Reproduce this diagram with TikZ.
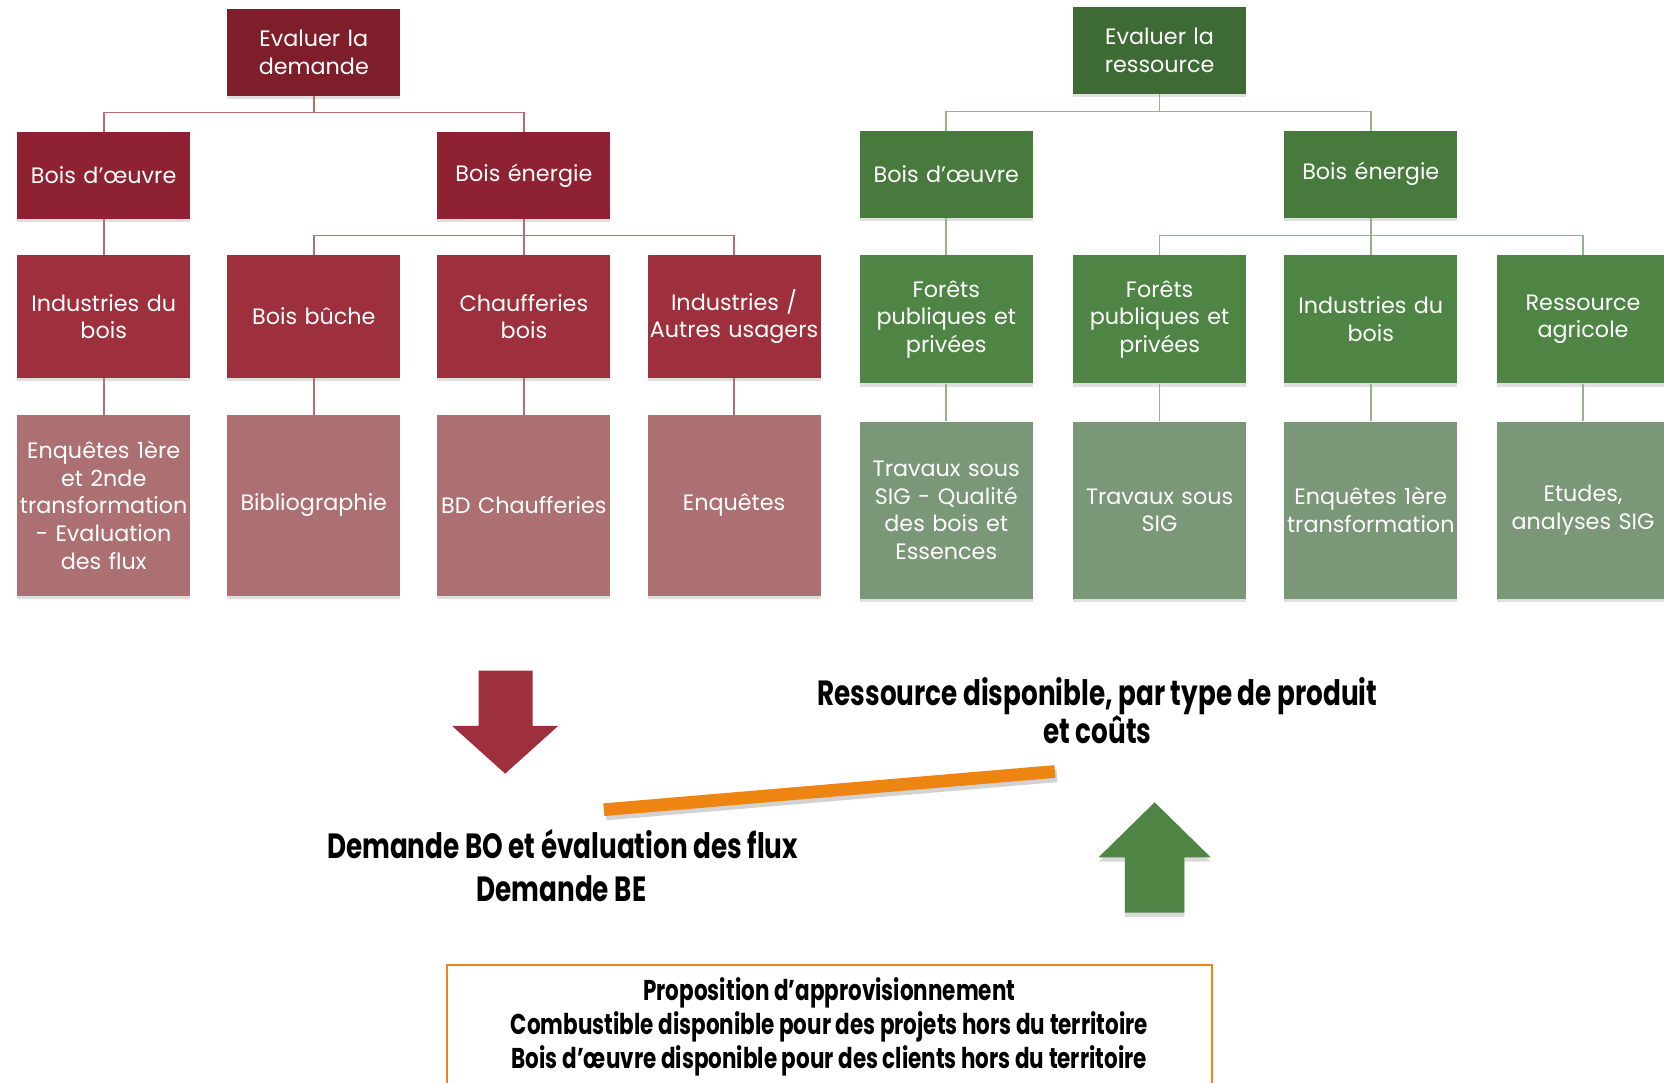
\documentclass[tikz,border=0pt]{standalone}
\usepackage{fontspec}
\setmainfont{Poppins}
\newfontfamily\etroite[FakeStretch=0.75]{Poppins}
\usetikzlibrary{shadows,calc}
\definecolor{rouge1}{HTML}{7E1E2A}
\definecolor{rouge2}{HTML}{8E2232}
\definecolor{rouge3}{HTML}{9E2F3C}
\definecolor{rouge4}{HTML}{AC7073}
\definecolor{rougetrait}{HTML}{B86B72}
\definecolor{vert1}{HTML}{3E6B35}
\definecolor{vert2}{HTML}{477A3C}
\definecolor{vert3}{HTML}{4F8544}
\definecolor{vert4}{HTML}{7A9777}
\definecolor{verttrait}{HTML}{93B48D}
\definecolor{orange}{HTML}{EE8412}
\tikzstyle{boite} = [rectangle, anchor=north west, text=white, align=center, inner xsep=1pt, text width=161pt, minimum width=163pt, font=\fontsize{21}{26}\selectfont, drop shadow={shadow xshift=0pt, shadow yshift=-3pt, opacity=.25}]
\tikzstyle{traitrouge} = [draw=rougetrait, line width=1.6pt]
\tikzstyle{traitvert} = [draw=verttrait, line width=1.6pt]
\tikzstyle{gras} = [align=center, font=\etroite\bfseries\fontsize{33}{30}\selectfont]

\begin{document}
\begin{tikzpicture}[x=1pt, y=-1pt]
		\useasboundingbox (0,0) rectangle (1568,1020);
		% demande
		\node[boite, fill=rouge1, minimum height=82pt](rdem) at (214,8) {Evaluer la\\demande};
		\node[boite, fill=rouge2, minimum height=82pt](rbo) at (16,124) {Bois d’œuvre};
		\node[boite, fill=rouge2, minimum height=82pt](rbe) at (412,124) {Bois énergie};
		\node[boite, fill=rouge3, minimum height=116pt](rind) at (16,240) {Industries du\\bois};
		\node[boite, fill=rouge3, minimum height=116pt](rbuche) at (214,240) {Bois bûche};
		\node[boite, fill=rouge3, minimum height=116pt](rchauf) at (412,240) {Chaufferies\\bois};
		\node[boite, fill=rouge3, minimum height=116pt](rautres) at (610,240) {Industries /\\Autres usagers};
		\node[boite, fill=rouge4, minimum height=170pt](renq) at (16,391) {Enquêtes 1ère\\et 2nde\\transformation\\- Evaluation\\des flux};
		\node[boite, fill=rouge4, minimum height=170pt](rbiblio) at (214,391) {Bibliographie};
		\node[boite, fill=rouge4, minimum height=170pt](rbd) at (412,391) {BD Chaufferies};
		\node[boite, fill=rouge4, minimum height=170pt](renq2) at (610,391) {Enquêtes};
		\draw[traitrouge] (rdem.south) -- ++(0,16);
		\draw[traitrouge] (rbo.north) -- ++(0,-18) -| (rbe.north);
		\draw[traitrouge] (rbo.south) -- (rind.north);
		\draw[traitrouge] (rbe.south) -- (rchauf.north);
		\draw[traitrouge] (rbuche.north) -- ++(0,-18) -| (rautres.north);
		\draw[traitrouge] (rind.south) -- (renq.north);
		\draw[traitrouge] (rbuche.south) -- (rbiblio.north);
		\draw[traitrouge] (rchauf.south) -- (rbd.north);
		\draw[traitrouge] (rautres.south) -- (renq2.north);
		% ressource
		\node[boite, fill=vert1, minimum height=82pt](vres) at (1011,6) {Evaluer la\\ressource};
		\node[boite, fill=vert2, minimum height=82pt](vbo) at (810,123) {Bois d’œuvre};
		\node[boite, fill=vert2, minimum height=82pt](vbe) at (1210,123) {Bois énergie};
		\node[boite, fill=vert3, minimum height=121pt](vfor) at (810,240) {Forêts\\publiques et\\privées};
		\node[boite, fill=vert3, minimum height=121pt](vfor2) at (1011,240) {Forêts\\publiques et\\privées};
		\node[boite, fill=vert3, minimum height=121pt](vind) at (1210,240) {Industries du\\bois};
		\node[boite, fill=vert3, minimum height=121pt](vagri) at (1410,240) {Ressource\\agricole};
		\node[boite, fill=vert4, minimum height=167pt](vsig) at (810,397) {Travaux sous\\SIG - Qualité\\des bois et\\Essences};
		\node[boite, fill=vert4, minimum height=167pt](vsig2) at (1011,397) {Travaux sous\\SIG};
		\node[boite, fill=vert4, minimum height=167pt](venq) at (1210,397) {Enquêtes 1ère\\transformation};
		\node[boite, fill=vert4, minimum height=167pt](vetu) at (1410,397) {Etudes,\\analyses SIG};
		\draw[traitvert] (vres.south) -- ++(0,17);
		\draw[traitvert] (vbo.north) -- ++(0,-18) -| (vbe.north);
		\draw[traitvert] (vbo.south) -- (vfor.north);
		\draw[traitvert] (vbe.south) -- (vind.north);
		\draw[traitvert] (vfor2.north) -- ++(0,-18) -| (vagri.north);
		\draw[traitvert] (vfor.south) -- (vsig.north);
		\draw[traitvert] (vfor2.south) -- (vsig2.north);
		\draw[traitvert] (vind.south) -- (venq.north);
		\draw[traitvert] (vagri.south) -- (vetu.north);
		% fleches et bilan
		\fill[rouge3] (451,632) -- (502,632) -- (502,684) -- (526,684) -- (476,729) -- (426,684) -- (451,684) -- cycle;
		\fill[vert3, drop shadow={shadow xshift=0pt, shadow yshift=-4pt, opacity=.3}] (1060,860) -- (1116,860) -- (1116,808) -- (1141,808) -- (1088,756) -- (1035,808) -- (1060,808) -- cycle;
		\draw[line width=12pt, black!35, opacity=.5] (571,767) -- (996,731);
		\draw[line width=12pt, orange] (569,763) -- (994,727);
		\node[gras](rdisp) at (1034,670) {Ressource disponible, par type de produit\\et coûts};
		\node[gras](dbo) at (530,795) {Demande BO et évaluation des flux};
		\node[gras](dbe) at (529,837) {Demande BE};
		\node[draw=orange, line width=2pt, anchor=north west, minimum width=721pt, minimum height=118pt, align=center, font=\etroite\bfseries\fontsize{27}{32}\selectfont](propo) at (420,908) {Proposition d’approvisionnement\\Combustible disponible pour des projets hors du territoire\\Bois d’œuvre disponible pour des clients hors du territoire};
	\end{tikzpicture}
\end{document}
